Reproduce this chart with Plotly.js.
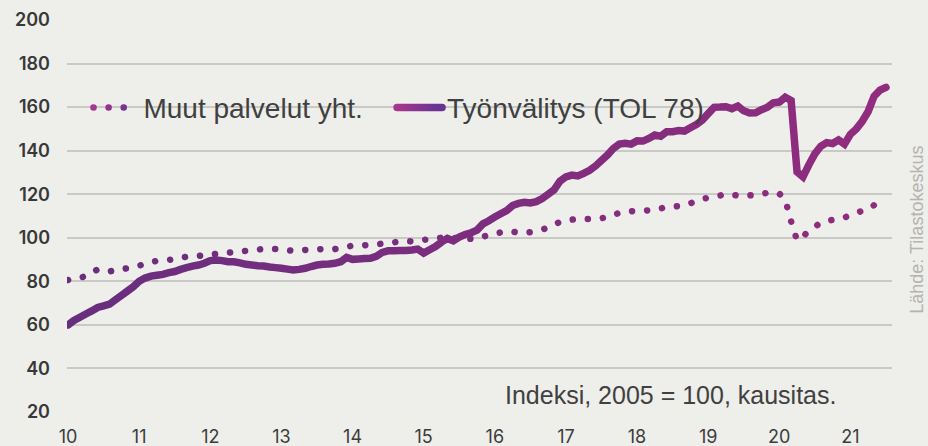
<!DOCTYPE html>
<html>
<head>
<meta charset="utf-8">
<script src="https://cdn.plot.ly/plotly-3.0.1.min.js"></script>
<style>
  html, body { margin: 0; padding: 0; background: #EEEEEA; }
  #chart { width: 928px; height: 446px; }
  .scatterlayer .js-line { stroke-linecap: round !important; stroke: url(#gPlot) !important; }
  .legend .js-line, .legend2 .js-line, .legendlines .js-line { stroke-linecap: round !important; stroke: url(#gLeg) !important; }
</style>
</head>
<body>
<svg width="0" height="0" style="position:absolute">
  <defs>
    <linearGradient id="gPlot" gradientUnits="userSpaceOnUse" x1="0" y1="0" x2="825" y2="0">
      <stop offset="0" stop-color="#682E7E"/>
      <stop offset="1" stop-color="#922C7E"/>
    </linearGradient>
    <linearGradient id="gLeg" gradientUnits="userSpaceOnUse" x1="5" y1="0" x2="45" y2="0">
      <stop offset="0" stop-color="#A8368C"/>
      <stop offset="1" stop-color="#6A3294"/>
    </linearGradient>
  </defs>
</svg>
<div id="chart"></div>
<script>
// Monthly periods 2010-01 ... 2021-07, expressed as year (two digits) + month fraction
const startYear = 10;
const monthCount = 139;

// Muut palvelut yht. (index 2005 = 100, seasonally adjusted)
const muutPalvelut = [
  80.6, 81.2, 81.5, 82.5, 84.0, 85.5, 85.2, 84.6, 85.0, 85.6, 86.0, 86.6,
  87.2, 88.0, 88.8, 89.4, 89.6, 89.8, 90.3, 90.9, 91.3, 91.5, 91.7, 92.0,
  92.3, 92.6, 92.9, 93.1, 93.5, 93.8, 94.0, 94.3, 94.6, 94.8, 94.8, 94.8,
  94.6, 94.3, 94.0, 94.2, 94.4, 94.5, 94.7, 94.8, 94.8, 94.8, 95.2, 95.8,
  96.4, 96.5, 96.6, 96.7, 97.0, 97.3, 97.5, 97.9, 98.4, 98.5, 98.3, 98.4,
  99.0, 99.5, 99.8, 100.0, 100.0, 99.9, 99.8, 99.6, 99.5, 99.6, 100.5, 101.3,
  101.8, 102.5, 103.1, 102.8, 102.4, 102.3, 102.6, 103.0, 103.8, 104.6, 106.0, 107.3,
  107.9, 108.3, 108.6, 108.6, 108.6, 108.6, 109.0, 109.5, 110.3, 111.5, 112.0, 112.2,
  112.3, 112.5, 112.6, 112.8, 113.5, 114.2, 114.4, 114.5, 114.8, 115.8, 117.0, 117.8,
  118.4, 118.8, 119.4, 120.1, 119.8, 119.4, 119.3, 119.5, 119.6, 120.0, 120.7, 120.9,
  120.3, 117.5, 107.5, 98.8, 100.5, 103.3, 105.0, 107.0, 107.8, 108.2, 108.6, 109.3,
  110.3, 111.3, 112.4, 113.2, 115.0, 117.0, 118.0
];

// Työnvälitys (TOL 78)
const tyonvalitys = [
  60.0, 62.0, 63.5, 65.0, 66.4, 68.0, 68.7, 69.5, 71.5, 73.5, 75.5, 77.5,
  80.0, 81.5, 82.4, 82.8, 83.2, 84.0, 84.5, 85.5, 86.3, 87.0, 87.5, 88.3,
  89.5, 89.8, 89.5, 89.0, 89.0, 88.5, 87.8, 87.5, 87.2, 87.0, 86.6, 86.3,
  86.0, 85.6, 85.2, 85.5, 86.0, 86.8, 87.5, 87.8, 88.0, 88.3, 89.0, 91.0,
  90.1, 90.3, 90.5, 90.6, 91.5, 93.3, 94.0, 94.0, 94.2, 94.2, 94.4, 94.8,
  93.0, 94.5, 96.0, 98.0, 99.7, 98.6, 100.3, 101.5, 102.3, 103.5, 106.4, 107.8,
  109.5, 111.0, 112.5, 114.8, 115.8, 116.3, 116.0, 116.6, 118.0, 120.0, 122.0, 126.0,
  128.0, 128.8, 128.4, 129.6, 131.0, 133.0, 135.5, 138.0, 141.0, 143.0, 143.4, 143.0,
  144.5, 144.4, 145.6, 147.2, 146.6, 148.7, 148.7, 149.2, 149.0, 150.5, 152.0, 154.0,
  157.0, 159.9, 160.0, 160.2, 159.3, 160.5, 158.3, 157.3, 157.4, 158.8, 159.9, 162.0,
  162.3, 164.5, 163.0, 130.3, 128.0, 133.5, 138.5, 142.0, 143.7, 143.3, 144.9, 143.0,
  147.5, 150.0, 153.5, 158.0, 165.0, 167.8, 169.1
];

const periods = [];
for (let m = 0; m < monthCount; m++) periods.push(startYear + m / 12);

const yearTicks = [10, 11, 12, 13, 14, 15, 16, 17, 18, 19, 20, 21];
const yearLabels = ['10', '11', '12', '13', '14', '15', '16', '17', '18', '19', '20', '21'];
const yTicks = [20, 40, 60, 80, 100, 120, 140, 160, 180, 200];

const seriesNames = ['Muut palvelut yht.', 'Työnvälitys (TOL 78)'];
const noteText = 'Indeksi, 2005 = 100, kausitas.';
const sourceText = 'Lähde: Tilastokeskus';

const traces = [
  {
    x: periods, y: muutPalvelut, name: seriesNames[0], type: 'scatter', mode: 'lines',
    legend: 'legend',
    line: { color: '#7E2D80', width: 6.5, dash: '0.1px,15px', simplify: false }
  },
  {
    x: periods, y: tyonvalitys, name: seriesNames[1], type: 'scatter', mode: 'lines',
    legend: 'legend2',
    line: { color: '#7E2D80', width: 7.5, simplify: false }
  }
];

const legendFont = { family: 'Liberation Sans, Arial, sans-serif', size: 28, color: '#404040' };

const layout = {
  width: 928, height: 446,
  paper_bgcolor: '#EEEEEA', plot_bgcolor: '#EEEEEA',
  margin: { l: 67, r: 36, t: 20, b: 34 },
  showlegend: true,
  legend: {
    orientation: 'h', x: 0.026, y: 0.776, xanchor: 'left', yanchor: 'middle',
    bgcolor: 'rgba(0,0,0,0)', borderwidth: 0, itemwidth: 45, font: legendFont
  },
  legend2: {
    orientation: 'h', x: 0.394, y: 0.776, xanchor: 'left', yanchor: 'middle',
    bgcolor: 'rgba(0,0,0,0)', borderwidth: 0, itemwidth: 45, font: legendFont
  },
  xaxis: {
    range: [9.985, 21.585], tickmode: 'array', tickvals: yearTicks, ticktext: yearLabels,
    showgrid: false, zeroline: false, showline: false, ticks: '',
    ticklabelstandoff: 12,
    tickfont: { family: 'Inter, DejaVu Sans, sans-serif', size: 18, color: '#3C3C3C', weight: 400 }
  },
  yaxis: {
    range: [20, 200], tickmode: 'array', tickvals: yTicks,
    showgrid: true, gridcolor: '#C9C9C5', gridwidth: 2,
    zeroline: false, showline: false, ticks: '',
    ticklabelstandoff: 16,
    tickfont: { family: 'Inter, DejaVu Sans, sans-serif', size: 18, color: '#383838', weight: 600 }
  },
  annotations: [
    {
      text: noteText, xref: 'paper', yref: 'paper', x: 0.732, y: 0.043,
      xanchor: 'center', yanchor: 'middle', showarrow: false,
      font: { family: 'Liberation Sans, Arial, sans-serif', size: 25, color: '#404040' }
    },
    {
      text: sourceText, xref: 'paper', yref: 'paper', x: 1.031, y: 0.464,
      xanchor: 'center', yanchor: 'middle', showarrow: false, textangle: -90,
      font: { family: 'Liberation Sans, Arial, sans-serif', size: 18, color: '#B4B4B2' }
    }
  ],
  hovermode: false
};

Plotly.newPlot('chart', traces, layout, { displayModeBar: false, staticPlot: true });
</script>
</body>
</html>
